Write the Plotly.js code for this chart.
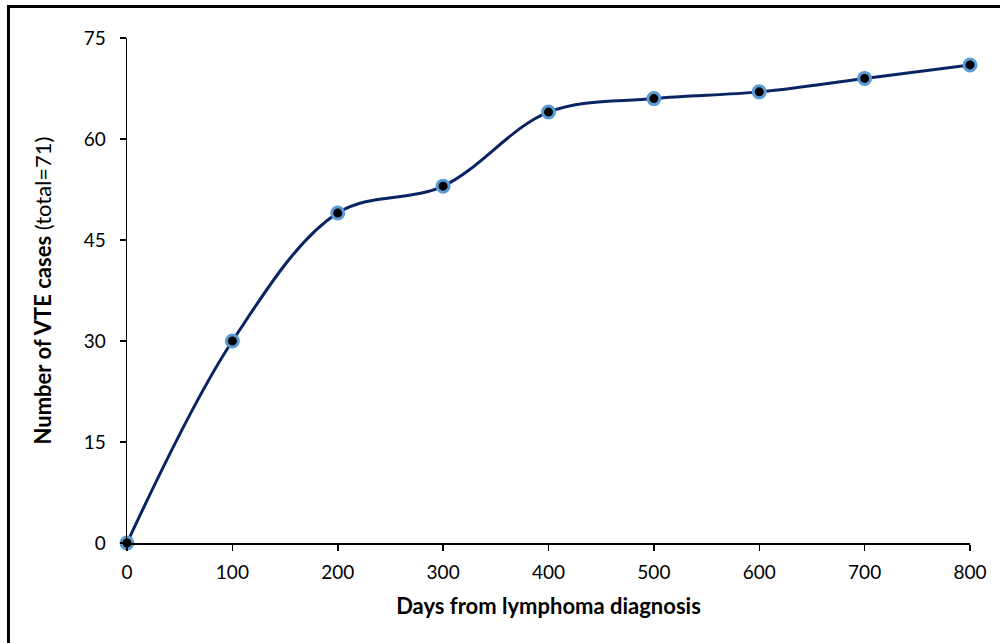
<!DOCTYPE html>
<html>
<head>
<meta charset="utf-8">
<script src="https://cdn.plot.ly/plotly-3.0.1.min.js"></script>
<style>
html,body{margin:0;padding:0;background:#fff;}
#chart{width:1000px;height:643px;}
</style>
</head>
<body>
<div id="chart"></div>
<script>
const days = [0, 100, 200, 300, 400, 500, 600, 700, 800];
const vteCases = [0, 30, 49, 53, 64, 66, 67, 69, 71];
const xTicks = [0, 100, 200, 300, 400, 500, 600, 700, 800];
const yTicks = [0, 15, 30, 45, 60, 75];

const FONT = 'Lato, "Open Sans", sans-serif';

const trace = {
  x: days,
  y: vteCases,
  type: 'scatter',
  mode: 'lines+markers',
  line: {color: '#0A2463', width: 3, shape: 'spline', smoothing: 1},
  marker: {size: 12, color: '#000000', line: {color: '#5B9BD5', width: 3}},
  cliponaxis: false,
  hoverinfo: 'x+y'
};

const layout = {
  width: 1000,
  height: 643,
  margin: {l: 127, r: 30, t: 38, b: 100},
  paper_bgcolor: '#ffffff',
  plot_bgcolor: '#ffffff',
  showlegend: false,
  font: {family: FONT, color: '#000000', size: 19},
  xaxis: {
    range: [0, 800],
    tickvals: xTicks,
    ticktext: xTicks.map(String),
    showgrid: false,
    zeroline: false,
    showline: true,
    linecolor: '#000000',
    linewidth: 1.5,
    ticks: 'outside',
    ticklen: 6,
    tickwidth: 1.5,
    tickcolor: '#000000',
    ticklabelstandoff: 6,
    tickfont: {family: FONT, size: 19, color: '#000'},
    title: {text: '<b>Days from lymphoma diagnosis</b>', font: {family: FONT, size: 22, color: '#000'}, standoff: 16}
  },
  yaxis: {
    range: [0, 75],
    tickvals: yTicks,
    ticktext: yTicks.map(String),
    showgrid: false,
    zeroline: false,
    showline: true,
    linecolor: '#000000',
    linewidth: 1.5,
    ticks: 'outside',
    ticklen: 6,
    tickwidth: 1.5,
    tickcolor: '#000000',
    ticklabelstandoff: 10,
    tickfont: {family: FONT, size: 19, color: '#000'},
    title: {text: '<b>Number of VTE cases</b> (total=71)', font: {family: FONT, size: 22, color: '#000'}, standoff: 26}
  },
  shapes: [{
    type: 'rect', xref: 'paper', yref: 'paper',
    x0: -0.1406, x1: 1.05, y0: -0.22, y1: 1.0624,
    line: {color: '#000000', width: 3},
    fillcolor: 'rgba(0,0,0,0)',
    layer: 'below'
  }]
};

Plotly.newPlot('chart', [trace], layout, {displayModeBar: false, staticPlot: true});
</script>
</body>
</html>
